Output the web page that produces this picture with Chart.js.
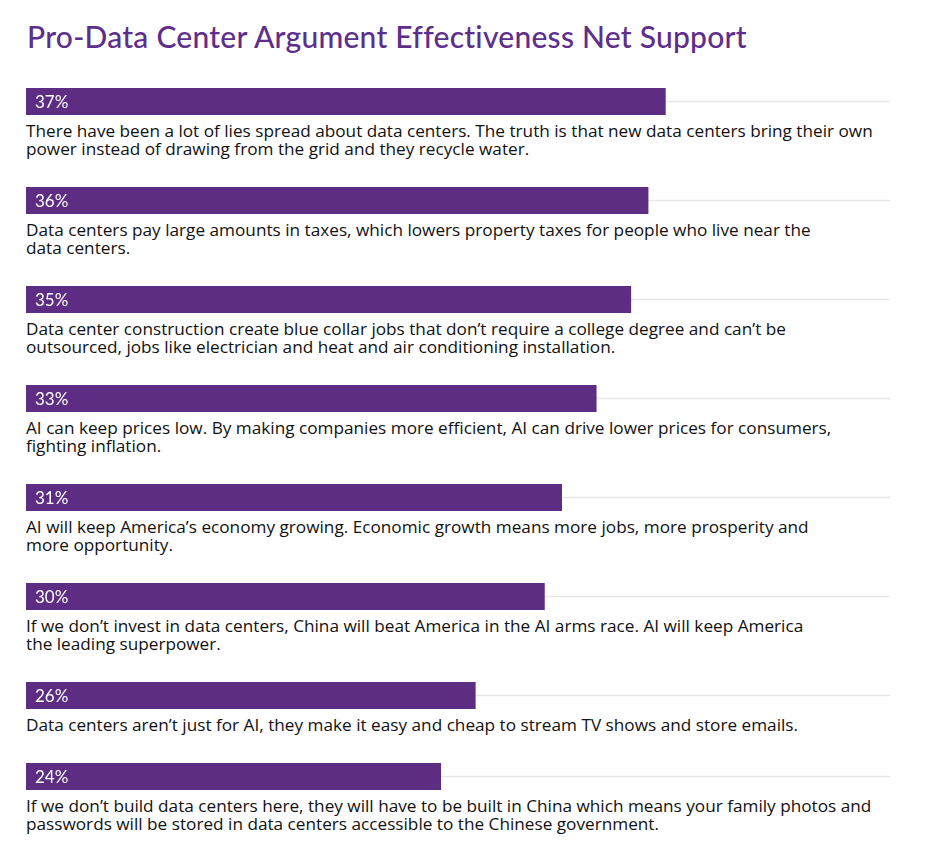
<!DOCTYPE html>
<html>
<head>
<meta charset="utf-8">
<script src="https://cdn.jsdelivr.net/npm/chart.js@4.4.1/dist/chart.umd.min.js"></script>
<style>
  body { margin: 0; background: #fff; font-family: Lato, sans-serif; }
  #wrap { position: absolute; left: 26px; top: 0; width: 864px; }
  h1 { margin: 0; position: absolute; top: 18px; left: 1px; font-size: 30px; font-weight: 500; color: #5d2e8c; white-space: nowrap; letter-spacing: 0.25px; }
  #rows { position: absolute; top: 88px; left: 0; width: 864px; }
  .row { margin-bottom: 29px; }
  .bar { height: 27px; width: 864px; position: relative; }
  .txt { margin-top: 7px; font-family: "Open Sans", sans-serif; font-size: 17.2px; line-height: 18px; color: #111; font-weight: 500; }
  .txt div { white-space: nowrap; }
</style>
</head>
<body>
<div id="wrap">
  <h1>Pro-Data Center Argument Effectiveness Net Support</h1>
  <div id="rows"></div>
</div>
<script>
const values = [37, 36, 35, 33, 31, 30, 26, 24];
const arguments_ = [
  ["There have been a lot of lies spread about data centers. The truth is that new data centers bring their own", "power instead of drawing from the grid and they recycle water."],
  ["Data centers pay large amounts in taxes, which lowers property taxes for people who live near the", "data centers."],
  ["Data center construction create blue collar jobs that don’t require a college degree and can’t be", "outsourced, jobs like electrician and heat and air conditioning installation."],
  ["AI can keep prices low. By making companies more efficient, AI can drive lower prices for consumers,", "fighting inflation."],
  ["AI will keep America’s economy growing. Economic growth means more jobs, more prosperity and", "more opportunity."],
  ["If we don’t invest in data centers, China will beat America in the AI arms race. AI will keep America", "the leading superpower."],
  ["Data centers aren’t just for AI, they make it easy and cheap to stream TV shows and store emails."],
  ["If we don’t build data centers here, they will have to be built in China which means your family photos and", "passwords will be stored in data centers accessible to the Chinese government."]
];
const axisMax = 50;

const valueLabel = {
  id: 'valueLabel',
  afterDatasetsDraw(chart) {
    const ctx = chart.ctx;
    const meta = chart.getDatasetMeta(1);
    meta.data.forEach((el, i) => {
      ctx.save();
      ctx.fillStyle = '#ffffff';
      ctx.font = '400 17px Lato';
      ctx.textBaseline = 'middle';
      ctx.fillText(chart.data.datasets[1].data[i] + '%', chart.scales.x.getPixelForValue(0) + 9, el.y + 1);
      ctx.restore();
    });
  }
};

const rows = document.getElementById('rows');
values.forEach((v, i) => {
  const row = document.createElement('div');
  row.className = 'row';
  const barBox = document.createElement('div');
  barBox.className = 'bar';
  const canvas = document.createElement('canvas');
  barBox.appendChild(canvas);
  const txt = document.createElement('div');
  txt.className = 'txt';
  arguments_[i].forEach(line => {
    const d = document.createElement('div');
    d.textContent = line;
    txt.appendChild(d);
  });
  row.appendChild(barBox);
  row.appendChild(txt);
  rows.appendChild(row);

  new Chart(canvas, {
    type: 'bar',
    data: {
      labels: [''],
      datasets: [
        { data: [axisMax], backgroundColor: '#e7e7e7', barThickness: 1, grouped: false, order: 2 },
        { data: [v], backgroundColor: '#5c2d83', categoryPercentage: 1, barPercentage: 1, grouped: false, order: 1 }
      ]
    },
    options: {
      indexAxis: 'y',
      responsive: true,
      maintainAspectRatio: false,
      animation: false,
      layout: { padding: 0 },
      plugins: { legend: { display: false }, tooltip: { enabled: false } },
      scales: {
        x: { min: 0, max: axisMax, display: false },
        y: { display: false }
      }
    },
    plugins: [valueLabel]
  });
});
</script>
</body>
</html>
